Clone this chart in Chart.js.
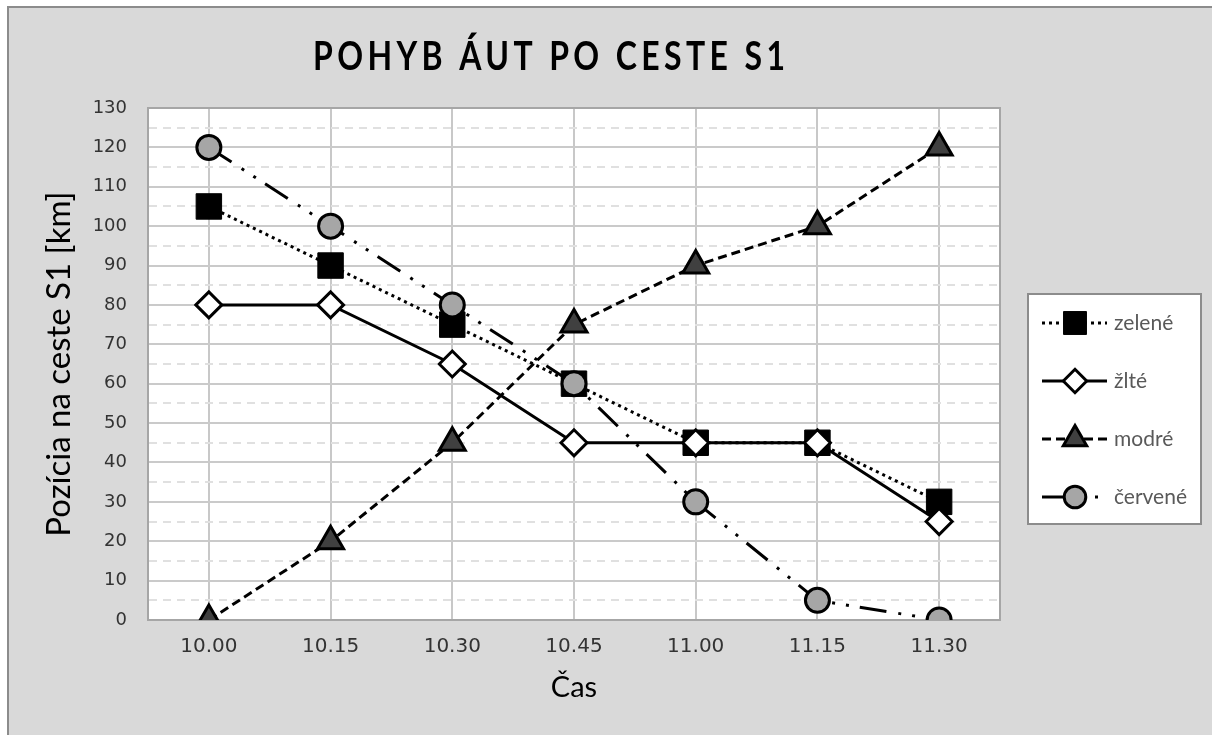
<!DOCTYPE html>
<html>
<head>
<meta charset="utf-8">
<script src="https://cdn.jsdelivr.net/npm/chart.js@4/dist/chart.umd.min.js"></script>
<style>
html, body { margin: 0; padding: 0; background: #fff; }
canvas { display: block; }
</style>
</head>
<body>
<canvas id="chart" width="1212" height="735"></canvas>
<script>
// ===== DATA =====
const chartTitle = "POHYB ÁUT PO CESTE S1";
const casy = ["10.00", "10.15", "10.30", "10.45", "11.00", "11.15", "11.30"];
const zelene = [105, 90, 75, 60, 45, 45, 30];
const zlte = [80, 80, 65, 45, 45, 45, 25];
const modre = [0, 20, 45, 75, 90, 100, 120];
const cervene = [120, 100, 80, 60, 30, 5, 0];
const yTitle = "Pozícia na ceste S1 [km]";
const xTitle = "Čas";

// ===== MARKER (legend) =====
function marker(ctx, style, r, x, y){
    ctx.beginPath();
    if(style === 'rect'){
        const s = r * Math.SQRT1_2;
        ctx.rect(x - s, y - s, 2 * s, 2 * s);
    } else if(style === 'rectRot'){
        ctx.moveTo(x - r, y); ctx.lineTo(x, y - r); ctx.lineTo(x + r, y); ctx.lineTo(x, y + r); ctx.closePath();
    } else if(style === 'triangle'){
        const a = Math.PI * 2 / 3;
        ctx.moveTo(x, y - r);
        ctx.lineTo(x + Math.sin(a) * r, y - Math.cos(a) * r);
        ctx.lineTo(x + Math.sin(2 * a) * r, y - Math.cos(2 * a) * r);
        ctx.closePath();
    } else {
        ctx.arc(x, y, r, 0, Math.PI * 2);
    }
    ctx.fill();
    ctx.stroke();
}

// ===== PLUGIN: background, plot frame, title, legend =====
const excelLook = {
    id: 'excelLook',
    beforeDraw(chart){
        const ctx = chart.ctx, a = chart.chartArea;
        ctx.save();
        ctx.fillStyle = '#ffffff';
        ctx.fillRect(0, 0, chart.width, chart.height);
        ctx.fillStyle = '#d9d9d9';
        ctx.fillRect(8, 7, chart.width - 8, chart.height - 7);
        ctx.strokeStyle = '#8c8c8c';
        ctx.lineWidth = 2;
        ctx.beginPath();
        ctx.moveTo(8, chart.height); ctx.lineTo(8, 7); ctx.lineTo(chart.width, 7);
        ctx.stroke();
        ctx.fillStyle = '#ffffff';
        ctx.fillRect(a.left, a.top, a.right - a.left, a.bottom - a.top);
        ctx.restore();
    },
    beforeDatasetsDraw(chart){
        const ctx = chart.ctx, a = chart.chartArea;
        ctx.save();
        ctx.strokeStyle = '#a6a6a6';
        ctx.lineWidth = 2;
        ctx.strokeRect(a.left, a.top, a.right - a.left, a.bottom - a.top);
        ctx.restore();
    },
    afterDraw(chart){
        const ctx = chart.ctx;
        ctx.save();

        // title (narrow, letter-spaced)
        const sx = 0.8;
        ctx.font = 'bold 40px Lato';
        ctx.fillStyle = '#000';
        ctx.textAlign = 'left';
        ctx.textBaseline = 'alphabetic';
        const w = ctx.measureText(chartTitle).width;
        const sp = (472 / sx - w) / (chartTitle.length - 1);
        ctx.letterSpacing = sp.toFixed(2) + 'px';
        ctx.translate(313, 70);
        ctx.scale(sx, 1);
        ctx.fillText(chartTitle, 0, 0);
        ctx.setTransform(1, 0, 0, 1, 0, 0);
        ctx.letterSpacing = '0px';

        // legend
        const lx = 1028, ly = 294, lw = 173, lh = 230;
        ctx.fillStyle = '#fff';
        ctx.fillRect(lx, ly, lw, lh);
        ctx.strokeStyle = '#8c8c8c';
        ctx.lineWidth = 2;
        ctx.strokeRect(lx, ly, lw, lh);

        chart.data.datasets.forEach((ds, i) => {
            const y = 323 + i * 58;
            ctx.strokeStyle = '#000';
            ctx.lineWidth = 3;
            ctx.setLineDash(ds.borderDash || []);
            ctx.beginPath();
            ctx.moveTo(1042, y);
            ctx.lineTo(1107, y);
            ctx.stroke();
            ctx.setLineDash([]);
            ctx.fillStyle = ds.pointBackgroundColor;
            ctx.lineWidth = ds.pointBorderWidth;
            marker(ctx, ds.pointStyle, ds.pointRadius * 0.9, 1075, y);

            ctx.font = '21px Lato';
            ctx.fillStyle = '#595959';
            ctx.textBaseline = 'middle';
            ctx.fillText(ds.label, 1114, y);
        });
        ctx.restore();
    }
};

// ===== CHART =====
new Chart(document.getElementById("chart"), {
    type: 'line',
    data: {
        labels: casy,
        datasets: [{
            label: 'zelené',
            data: zelene,
            order: 4,
            borderColor: '#000',
            borderWidth: 3,
            borderDash: [3, 4],
            pointStyle: 'rect',
            pointRadius: 18,
            pointBackgroundColor: '#000',
            pointBorderColor: '#000',
            pointBorderWidth: 1
        }, {
            label: 'žlté',
            data: zlte,
            order: 3,
            borderColor: '#000',
            borderWidth: 3,
            pointStyle: 'rectRot',
            pointRadius: 13,
            pointBackgroundColor: '#fff',
            pointBorderColor: '#000',
            pointBorderWidth: 3
        }, {
            label: 'modré',
            data: modre,
            order: 2,
            borderColor: '#000',
            borderWidth: 3,
            borderDash: [9, 5],
            pointStyle: 'triangle',
            pointRadius: 15,
            pointBackgroundColor: '#404040',
            pointBorderColor: '#000',
            pointBorderWidth: 3
        }, {
            label: 'červené',
            data: cervene,
            order: 1,
            borderColor: '#000',
            borderWidth: 3,
            borderDash: [27, 12, 3, 11, 3, 11],
            pointStyle: 'circle',
            pointRadius: 12,
            pointBackgroundColor: '#a6a6a6',
            pointBorderColor: '#000',
            pointBorderWidth: 3
        }]
    },
    options: {
        responsive: false,
        devicePixelRatio: 1,
        animation: false,
        layout: { padding: { left: 10, top: 108, right: 212, bottom: 0 } },
        plugins: {
            legend: { display: false },
            tooltip: { enabled: false }
        },
        elements: { line: { tension: 0 } },
        scales: {
            x: {
                offset: true,
                grid: { offset: false, color: '#c8c8c8', lineWidth: 2, drawTicks: false },
                border: { display: false },
                ticks: { padding: 15, color: '#333', font: { family: 'DejaVu Sans', size: 20 } },
                title: { display: true, text: xTitle, color: '#000', font: { family: 'Lato', size: 29 }, padding: { top: 0, bottom: 30 } },
                afterFit: s => { s.height = 115; }
            },
            y: {
                min: 0,
                max: 130,
                ticks: {
                    stepSize: 5,
                    autoSkip: false,
                    padding: 21,
                    color: '#333',
                    font: { family: 'DejaVu Sans', size: 18 },
                    callback: v => v % 10 === 0 ? v : ''
                },
                grid: {
                    drawTicks: false,
                    lineWidth: 2,
                    color: c => (c.tick && c.tick.value % 10) ? '#e0e0e0' : '#cacaca'
                },
                border: {
                    display: true,
                    color: '#bfbfbf',
                    width: 2,
                    dash: c => (c.tick && c.tick.value % 10) ? [8, 6] : []
                },
                title: { display: true, text: yTitle, color: '#000', font: { family: 'Lato', size: 33 }, padding: { top: 30, bottom: 0 } },
                afterFit: s => { s.width = 138; }
            }
        }
    },
    plugins: [excelLook]
});
</script>
</body>
</html>
